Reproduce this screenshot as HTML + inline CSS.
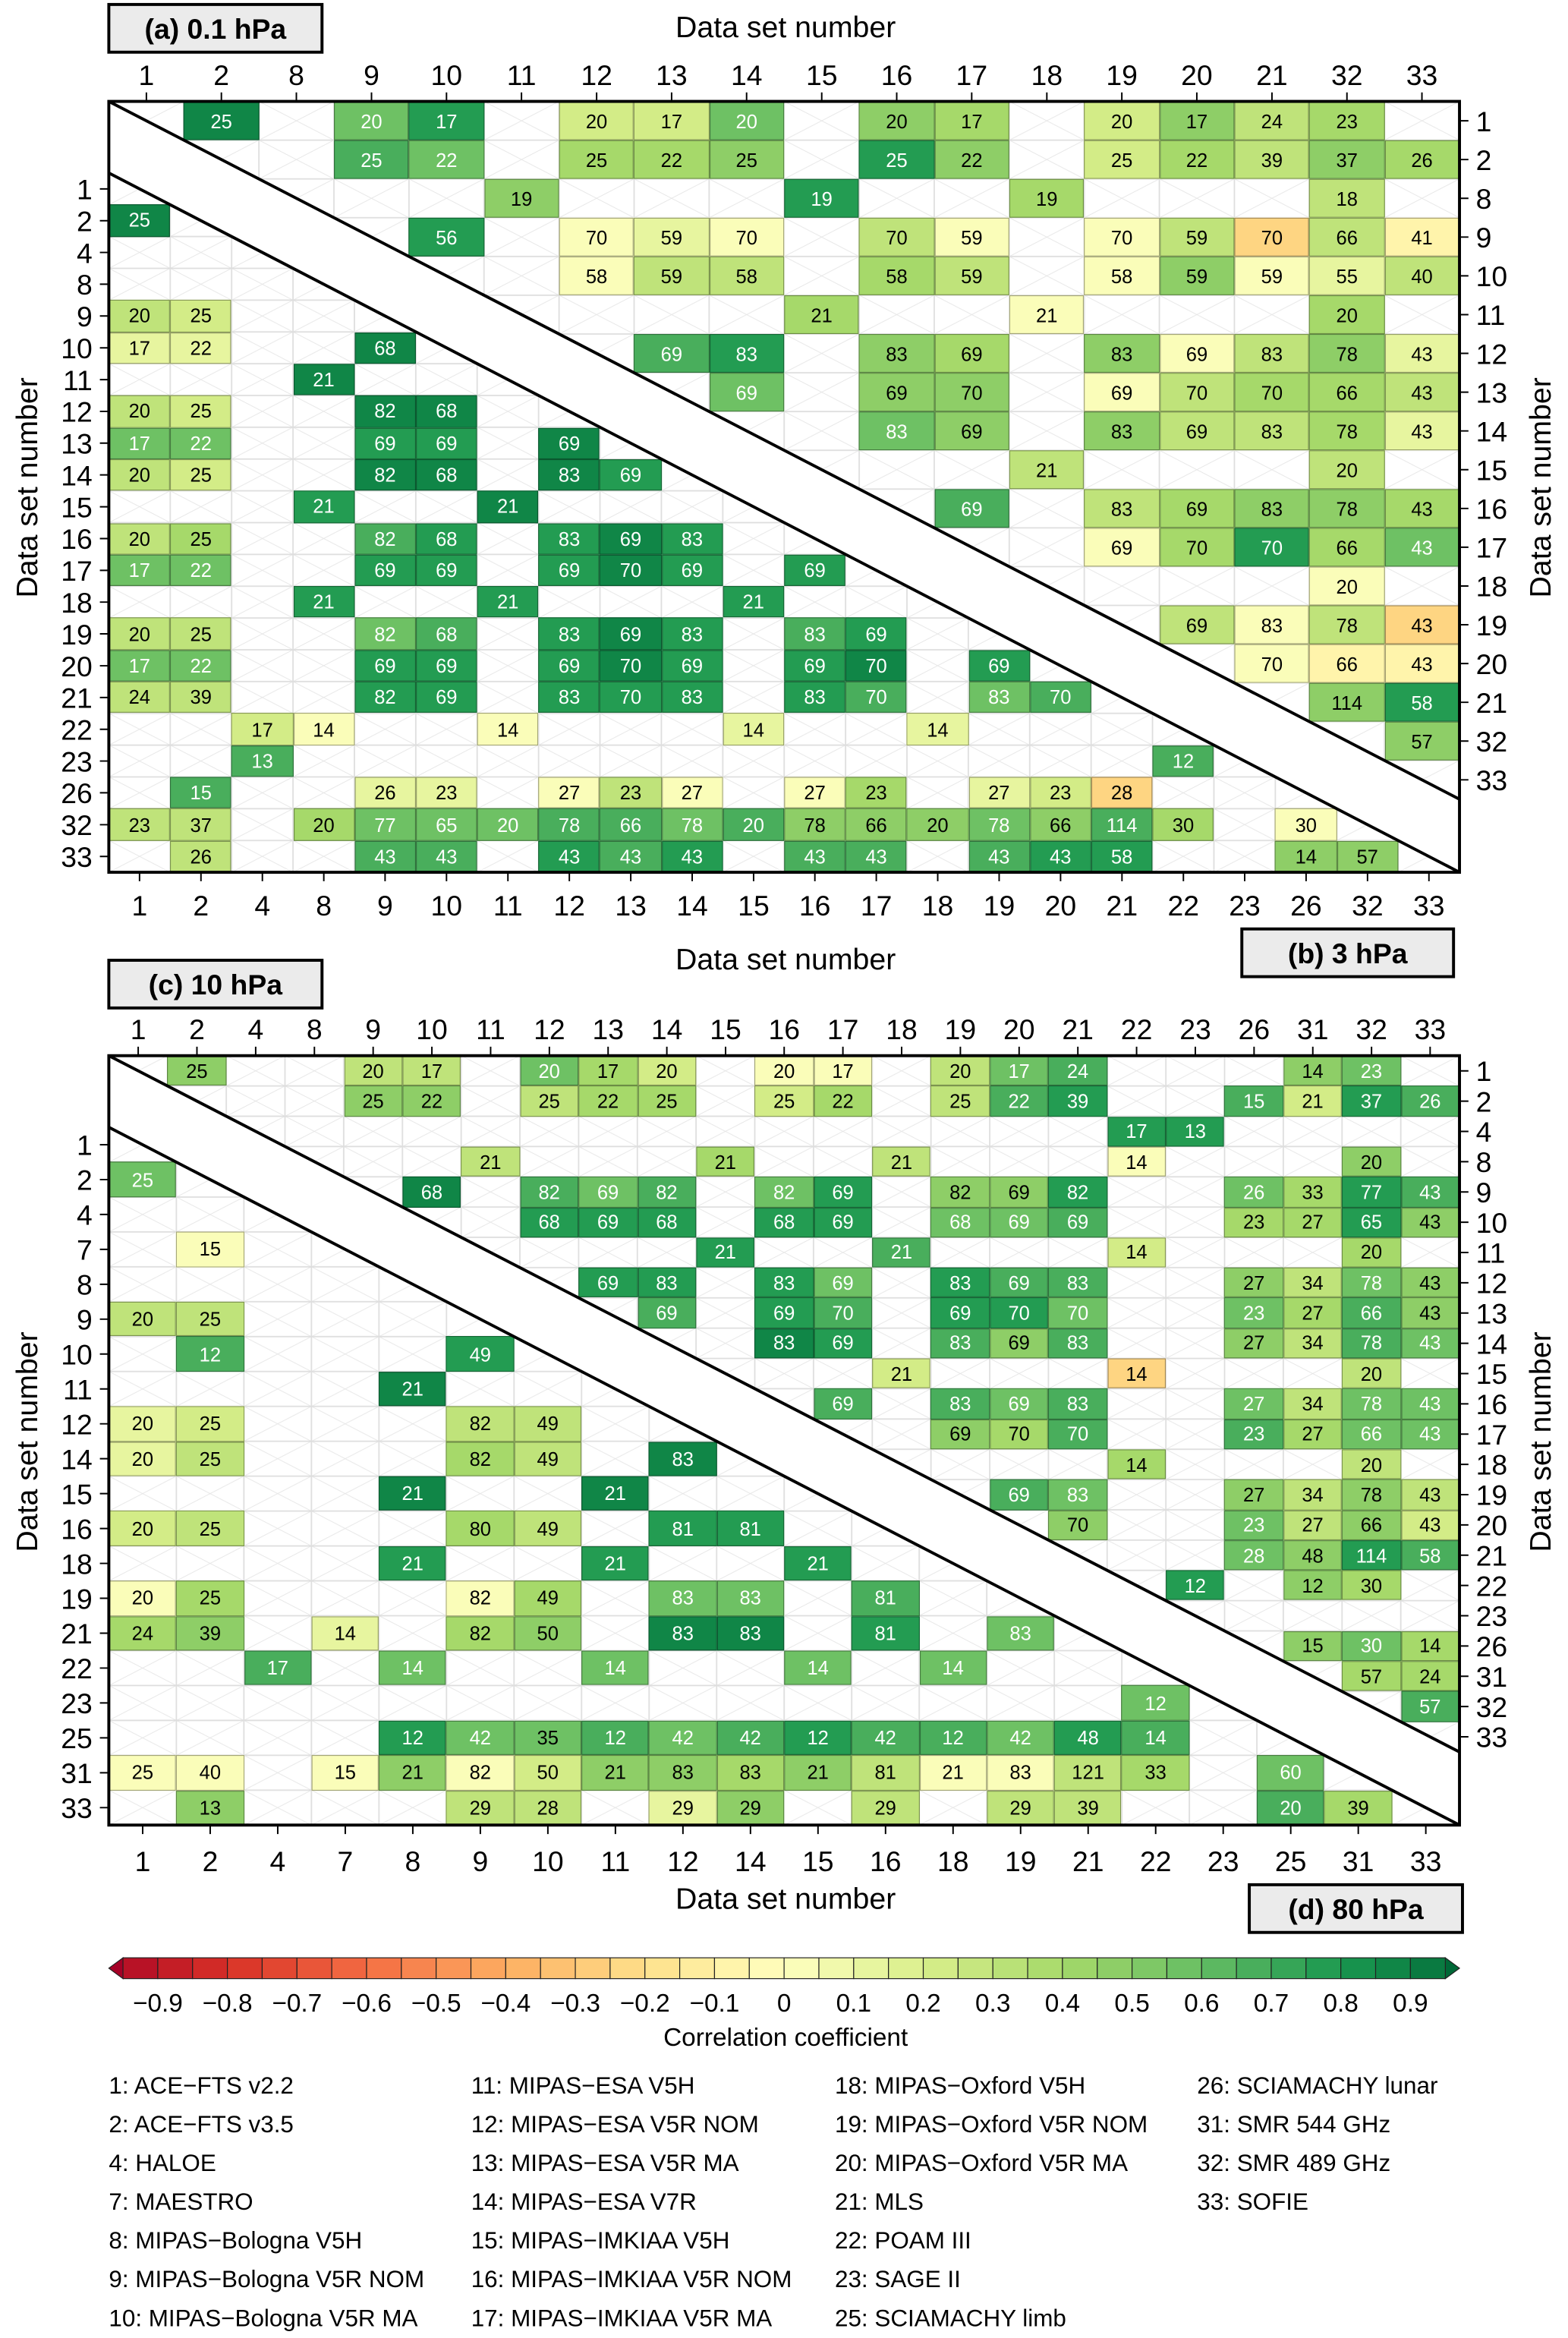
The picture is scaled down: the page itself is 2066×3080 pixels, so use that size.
<!DOCTYPE html>
<html><head><meta charset="utf-8">
<style>
html,body{margin:0;padding:0;background:#fff;width:2066px;height:3080px;overflow:hidden}
.wrap{position:absolute;left:0;top:0;width:1052px;height:1568px;transform-origin:0 0;transform:scale(1.96429,1.96429);font-family:"Liberation Sans",Arial,sans-serif}
.g{position:absolute;display:grid}
.g svg{position:absolute;left:0;top:0}
.g i{position:relative;font-style:normal;display:flex;align-items:center;justify-content:center;font-size:13px;color:#000;box-shadow:inset 0 0 0 0.6px rgba(0,0,0,.35)}
.up{clip-path:polygon(0 0,100% 0,100% 100%)}
.lo{clip-path:polygon(0 0,100% 100%,0 100%)}
.k0{background:#fafdb9}.k1{background:#e7f59f}.k2{background:#d3ec87}.k3{background:#bfe37a}.k4{background:#a6d96a}
.k5{background:#8ece67}.k6{background:#6ec164}.k7{background:#49ae5c}.k8{background:#239c52}.k9{background:#108647}
.n1{background:#fff4ab}.n2{background:#fed582}
.g i.w{color:#fff}
.ov{position:absolute;left:0;top:0}
</style></head><body><div class="wrap">

<div class="g up" style="left:73px;top:68px;width:906px;height:468px;grid-template-columns:repeat(18,1fr);grid-template-rows:repeat(18,1fr)">
<svg width="906" height="468"><defs><pattern id="pa" width="50.333" height="26" patternUnits="userSpaceOnUse"><path d="M0 0L50.333 26M50.333 0L0 26" stroke="#e6e6e6" stroke-width="0.5" fill="none"/><rect x="0" y="0" width="50.333" height="26" fill="none" stroke="#dedede" stroke-width="0.9"/></pattern></defs><rect width="906" height="468" fill="url(#pa)"/></svg>
<i class="k9 w" style="grid-area:1/2">25</i><i class="k6 w" style="grid-area:1/4">20</i><i class="k8 w" style="grid-area:1/5">17</i><i class="k2" style="grid-area:1/7">20</i><i class="k2" style="grid-area:1/8">17</i><i class="k6 w" style="grid-area:1/9">20</i><i class="k5" style="grid-area:1/11">20</i><i class="k4" style="grid-area:1/12">17</i><i class="k2" style="grid-area:1/14">20</i><i class="k5" style="grid-area:1/15">17</i><i class="k3" style="grid-area:1/16">24</i><i class="k4" style="grid-area:1/17">23</i>
<i class="k7 w" style="grid-area:2/4">25</i><i class="k6 w" style="grid-area:2/5">22</i><i class="k4" style="grid-area:2/7">25</i><i class="k4" style="grid-area:2/8">22</i><i class="k5" style="grid-area:2/9">25</i><i class="k8 w" style="grid-area:2/11">25</i><i class="k5" style="grid-area:2/12">22</i><i class="k2" style="grid-area:2/14">25</i><i class="k4" style="grid-area:2/15">22</i><i class="k3" style="grid-area:2/16">39</i><i class="k5" style="grid-area:2/17">37</i><i class="k4" style="grid-area:2/18">26</i>
<i class="k5" style="grid-area:3/6">19</i><i class="k8 w" style="grid-area:3/10">19</i><i class="k4" style="grid-area:3/13">19</i><i class="k3" style="grid-area:3/17">18</i>
<i class="k8 w" style="grid-area:4/5">56</i><i class="k0" style="grid-area:4/7">70</i><i class="k1" style="grid-area:4/8">59</i><i class="k0" style="grid-area:4/9">70</i><i class="k3" style="grid-area:4/11">70</i><i class="k0" style="grid-area:4/12">59</i><i class="k0" style="grid-area:4/14">70</i><i class="k3" style="grid-area:4/15">59</i><i class="n2" style="grid-area:4/16">70</i><i class="k3" style="grid-area:4/17">66</i><i class="n1" style="grid-area:4/18">41</i>
<i class="k0" style="grid-area:5/7">58</i><i class="k3" style="grid-area:5/8">59</i><i class="k3" style="grid-area:5/9">58</i><i class="k4" style="grid-area:5/11">58</i><i class="k3" style="grid-area:5/12">59</i><i class="k0" style="grid-area:5/14">58</i><i class="k5" style="grid-area:5/15">59</i><i class="k0" style="grid-area:5/16">59</i><i class="k1" style="grid-area:5/17">55</i><i class="k3" style="grid-area:5/18">40</i>
<i class="k4" style="grid-area:6/10">21</i><i class="k0" style="grid-area:6/13">21</i><i class="k4" style="grid-area:6/17">20</i>
<i class="k7 w" style="grid-area:7/8">69</i><i class="k8 w" style="grid-area:7/9">83</i><i class="k5" style="grid-area:7/11">83</i><i class="k4" style="grid-area:7/12">69</i><i class="k5" style="grid-area:7/14">83</i><i class="k0" style="grid-area:7/15">69</i><i class="k3" style="grid-area:7/16">83</i><i class="k5" style="grid-area:7/17">78</i><i class="k1" style="grid-area:7/18">43</i>
<i class="k6 w" style="grid-area:8/9">69</i><i class="k5" style="grid-area:8/11">69</i><i class="k5" style="grid-area:8/12">70</i><i class="k0" style="grid-area:8/14">69</i><i class="k3" style="grid-area:8/15">70</i><i class="k4" style="grid-area:8/16">70</i><i class="k4" style="grid-area:8/17">66</i><i class="k3" style="grid-area:8/18">43</i>
<i class="k6 w" style="grid-area:9/11">83</i><i class="k5" style="grid-area:9/12">69</i><i class="k5" style="grid-area:9/14">83</i><i class="k3" style="grid-area:9/15">69</i><i class="k3" style="grid-area:9/16">83</i><i class="k4" style="grid-area:9/17">78</i><i class="k1" style="grid-area:9/18">43</i>
<i class="k3" style="grid-area:10/13">21</i><i class="k3" style="grid-area:10/17">20</i>
<i class="k7 w" style="grid-area:11/12">69</i><i class="k3" style="grid-area:11/14">83</i><i class="k4" style="grid-area:11/15">69</i><i class="k5" style="grid-area:11/16">83</i><i class="k5" style="grid-area:11/17">78</i><i class="k4" style="grid-area:11/18">43</i>
<i class="k0" style="grid-area:12/14">69</i><i class="k4" style="grid-area:12/15">70</i><i class="k8 w" style="grid-area:12/16">70</i><i class="k4" style="grid-area:12/17">66</i><i class="k6 w" style="grid-area:12/18">43</i>
<i class="k0" style="grid-area:13/17">20</i>
<i class="k3" style="grid-area:14/15">69</i><i class="k0" style="grid-area:14/16">83</i><i class="k3" style="grid-area:14/17">78</i><i class="n2" style="grid-area:14/18">43</i>
<i class="k0" style="grid-area:15/16">70</i><i class="n1" style="grid-area:15/17">66</i><i class="n1" style="grid-area:15/18">43</i>
<i class="k5" style="grid-area:16/17">114</i><i class="k8 w" style="grid-area:16/18">58</i>
<i class="k5" style="grid-area:17/18">57</i>
</div>

<div class="g lo" style="left:73px;top:116px;width:906px;height:469px;grid-template-columns:repeat(22,1fr);grid-template-rows:repeat(22,1fr)">
<svg width="906" height="469"><defs><pattern id="pb" width="41.1818" height="21.318" patternUnits="userSpaceOnUse"><path d="M0 0L41.1818 21.318M41.1818 0L0 21.318" stroke="#e6e6e6" stroke-width="0.5" fill="none"/><rect x="0" y="0" width="41.1818" height="21.318" fill="none" stroke="#dedede" stroke-width="0.9"/></pattern></defs><rect width="906" height="469" fill="url(#pb)"/></svg>
<i class="k9 w" style="grid-area:2/1">25</i>
<i class="k3" style="grid-area:5/1">20</i><i class="k2" style="grid-area:5/2">25</i>
<i class="k1" style="grid-area:6/1">17</i><i class="k1" style="grid-area:6/2">22</i><i class="k9 w" style="grid-area:6/5">68</i>
<i class="k9 w" style="grid-area:7/4">21</i>
<i class="k3" style="grid-area:8/1">20</i><i class="k2" style="grid-area:8/2">25</i><i class="k9 w" style="grid-area:8/5">82</i><i class="k9 w" style="grid-area:8/6">68</i>
<i class="k6 w" style="grid-area:9/1">17</i><i class="k6 w" style="grid-area:9/2">22</i><i class="k8 w" style="grid-area:9/5">69</i><i class="k8 w" style="grid-area:9/6">69</i><i class="k9 w" style="grid-area:9/8">69</i>
<i class="k3" style="grid-area:10/1">20</i><i class="k2" style="grid-area:10/2">25</i><i class="k9 w" style="grid-area:10/5">82</i><i class="k9 w" style="grid-area:10/6">68</i><i class="k9 w" style="grid-area:10/8">83</i><i class="k8 w" style="grid-area:10/9">69</i>
<i class="k8 w" style="grid-area:11/4">21</i><i class="k9 w" style="grid-area:11/7">21</i>
<i class="k3" style="grid-area:12/1">20</i><i class="k4" style="grid-area:12/2">25</i><i class="k7 w" style="grid-area:12/5">82</i><i class="k8 w" style="grid-area:12/6">68</i><i class="k8 w" style="grid-area:12/8">83</i><i class="k9 w" style="grid-area:12/9">69</i><i class="k8 w" style="grid-area:12/10">83</i>
<i class="k6 w" style="grid-area:13/1">17</i><i class="k6 w" style="grid-area:13/2">22</i><i class="k8 w" style="grid-area:13/5">69</i><i class="k8 w" style="grid-area:13/6">69</i><i class="k8 w" style="grid-area:13/8">69</i><i class="k9 w" style="grid-area:13/9">70</i><i class="k8 w" style="grid-area:13/10">69</i><i class="k8 w" style="grid-area:13/12">69</i>
<i class="k8 w" style="grid-area:14/4">21</i><i class="k8 w" style="grid-area:14/7">21</i><i class="k8 w" style="grid-area:14/11">21</i>
<i class="k3" style="grid-area:15/1">20</i><i class="k3" style="grid-area:15/2">25</i><i class="k6 w" style="grid-area:15/5">82</i><i class="k7 w" style="grid-area:15/6">68</i><i class="k8 w" style="grid-area:15/8">83</i><i class="k9 w" style="grid-area:15/9">69</i><i class="k8 w" style="grid-area:15/10">83</i><i class="k7 w" style="grid-area:15/12">83</i><i class="k8 w" style="grid-area:15/13">69</i>
<i class="k6 w" style="grid-area:16/1">17</i><i class="k6 w" style="grid-area:16/2">22</i><i class="k8 w" style="grid-area:16/5">69</i><i class="k8 w" style="grid-area:16/6">69</i><i class="k8 w" style="grid-area:16/8">69</i><i class="k9 w" style="grid-area:16/9">70</i><i class="k8 w" style="grid-area:16/10">69</i><i class="k8 w" style="grid-area:16/12">69</i><i class="k9 w" style="grid-area:16/13">70</i><i class="k8 w" style="grid-area:16/15">69</i>
<i class="k3" style="grid-area:17/1">24</i><i class="k3" style="grid-area:17/2">39</i><i class="k8 w" style="grid-area:17/5">82</i><i class="k8 w" style="grid-area:17/6">69</i><i class="k8 w" style="grid-area:17/8">83</i><i class="k8 w" style="grid-area:17/9">70</i><i class="k8 w" style="grid-area:17/10">83</i><i class="k8 w" style="grid-area:17/12">83</i><i class="k7 w" style="grid-area:17/13">70</i><i class="k6 w" style="grid-area:17/15">83</i><i class="k7 w" style="grid-area:17/16">70</i>
<i class="k2" style="grid-area:18/3">17</i><i class="k0" style="grid-area:18/4">14</i><i class="k0" style="grid-area:18/7">14</i><i class="k1" style="grid-area:18/11">14</i><i class="k1" style="grid-area:18/14">14</i>
<i class="k7 w" style="grid-area:19/3">13</i><i class="k7 w" style="grid-area:19/18">12</i>
<i class="k7 w" style="grid-area:20/2">15</i><i class="k1" style="grid-area:20/5">26</i><i class="k1" style="grid-area:20/6">23</i><i class="k0" style="grid-area:20/8">27</i><i class="k3" style="grid-area:20/9">23</i><i class="k0" style="grid-area:20/10">27</i><i class="k0" style="grid-area:20/12">27</i><i class="k4" style="grid-area:20/13">23</i><i class="k1" style="grid-area:20/15">27</i><i class="k2" style="grid-area:20/16">23</i><i class="n2" style="grid-area:20/17">28</i>
<i class="k3" style="grid-area:21/1">23</i><i class="k3" style="grid-area:21/2">37</i><i class="k4" style="grid-area:21/4">20</i><i class="k6 w" style="grid-area:21/5">77</i><i class="k6 w" style="grid-area:21/6">65</i><i class="k6 w" style="grid-area:21/7">20</i><i class="k7 w" style="grid-area:21/8">78</i><i class="k7 w" style="grid-area:21/9">66</i><i class="k6 w" style="grid-area:21/10">78</i><i class="k7 w" style="grid-area:21/11">20</i><i class="k5" style="grid-area:21/12">78</i><i class="k5" style="grid-area:21/13">66</i><i class="k5" style="grid-area:21/14">20</i><i class="k6 w" style="grid-area:21/15">78</i><i class="k5" style="grid-area:21/16">66</i><i class="k7 w" style="grid-area:21/17">114</i><i class="k4" style="grid-area:21/18">30</i><i class="k0" style="grid-area:21/20">30</i>
<i class="k3" style="grid-area:22/2">26</i><i class="k7 w" style="grid-area:22/5">43</i><i class="k7 w" style="grid-area:22/6">43</i><i class="k8 w" style="grid-area:22/8">43</i><i class="k7 w" style="grid-area:22/9">43</i><i class="k8 w" style="grid-area:22/10">43</i><i class="k7 w" style="grid-area:22/12">43</i><i class="k7 w" style="grid-area:22/13">43</i><i class="k7 w" style="grid-area:22/15">43</i><i class="k8 w" style="grid-area:22/16">43</i><i class="k8 w" style="grid-area:22/17">58</i><i class="k5" style="grid-area:22/20">14</i><i class="k5" style="grid-area:22/21">57</i>
</div>

<div class="g up" style="left:73px;top:708px;width:906px;height:467px;grid-template-columns:repeat(23,1fr);grid-template-rows:repeat(23,1fr)">
<svg width="906" height="467"><defs><pattern id="pc" width="39.3913" height="20.3043" patternUnits="userSpaceOnUse"><path d="M0 0L39.3913 20.3043M39.3913 0L0 20.3043" stroke="#e6e6e6" stroke-width="0.5" fill="none"/><rect x="0" y="0" width="39.3913" height="20.3043" fill="none" stroke="#dedede" stroke-width="0.9"/></pattern></defs><rect width="906" height="467" fill="url(#pc)"/></svg>
<i class="k5" style="grid-area:1/2">25</i><i class="k3" style="grid-area:1/5">20</i><i class="k3" style="grid-area:1/6">17</i><i class="k6 w" style="grid-area:1/8">20</i><i class="k4" style="grid-area:1/9">17</i><i class="k2" style="grid-area:1/10">20</i><i class="k0" style="grid-area:1/12">20</i><i class="k0" style="grid-area:1/13">17</i><i class="k3" style="grid-area:1/15">20</i><i class="k6 w" style="grid-area:1/16">17</i><i class="k7 w" style="grid-area:1/17">24</i><i class="k5" style="grid-area:1/21">14</i><i class="k6 w" style="grid-area:1/22">23</i>
<i class="k5" style="grid-area:2/5">25</i><i class="k5" style="grid-area:2/6">22</i><i class="k3" style="grid-area:2/8">25</i><i class="k4" style="grid-area:2/9">22</i><i class="k4" style="grid-area:2/10">25</i><i class="k2" style="grid-area:2/12">25</i><i class="k4" style="grid-area:2/13">22</i><i class="k3" style="grid-area:2/15">25</i><i class="k7 w" style="grid-area:2/16">22</i><i class="k8 w" style="grid-area:2/17">39</i><i class="k7 w" style="grid-area:2/20">15</i><i class="k2" style="grid-area:2/21">21</i><i class="k8 w" style="grid-area:2/22">37</i><i class="k7 w" style="grid-area:2/23">26</i>
<i class="k8 w" style="grid-area:3/18">17</i><i class="k8 w" style="grid-area:3/19">13</i>
<i class="k3" style="grid-area:4/7">21</i><i class="k4" style="grid-area:4/11">21</i><i class="k3" style="grid-area:4/14">21</i><i class="k0" style="grid-area:4/18">14</i><i class="k5" style="grid-area:4/22">20</i>
<i class="k9 w" style="grid-area:5/6">68</i><i class="k7 w" style="grid-area:5/8">82</i><i class="k6 w" style="grid-area:5/9">69</i><i class="k7 w" style="grid-area:5/10">82</i><i class="k6 w" style="grid-area:5/12">82</i><i class="k8 w" style="grid-area:5/13">69</i><i class="k5" style="grid-area:5/15">82</i><i class="k5" style="grid-area:5/16">69</i><i class="k8 w" style="grid-area:5/17">82</i><i class="k6 w" style="grid-area:5/20">26</i><i class="k4" style="grid-area:5/21">33</i><i class="k8 w" style="grid-area:5/22">77</i><i class="k7 w" style="grid-area:5/23">43</i>
<i class="k8 w" style="grid-area:6/8">68</i><i class="k8 w" style="grid-area:6/9">69</i><i class="k8 w" style="grid-area:6/10">68</i><i class="k8 w" style="grid-area:6/12">68</i><i class="k8 w" style="grid-area:6/13">69</i><i class="k6 w" style="grid-area:6/15">68</i><i class="k6 w" style="grid-area:6/16">69</i><i class="k7 w" style="grid-area:6/17">69</i><i class="k4" style="grid-area:6/20">23</i><i class="k4" style="grid-area:6/21">27</i><i class="k8 w" style="grid-area:6/22">65</i><i class="k5" style="grid-area:6/23">43</i>
<i class="k8 w" style="grid-area:7/11">21</i><i class="k7 w" style="grid-area:7/14">21</i><i class="k2" style="grid-area:7/18">14</i><i class="k4" style="grid-area:7/22">20</i>
<i class="k8 w" style="grid-area:8/9">69</i><i class="k8 w" style="grid-area:8/10">83</i><i class="k8 w" style="grid-area:8/12">83</i><i class="k6 w" style="grid-area:8/13">69</i><i class="k8 w" style="grid-area:8/15">83</i><i class="k7 w" style="grid-area:8/16">69</i><i class="k7 w" style="grid-area:8/17">83</i><i class="k5" style="grid-area:8/20">27</i><i class="k3" style="grid-area:8/21">34</i><i class="k6 w" style="grid-area:8/22">78</i><i class="k5" style="grid-area:8/23">43</i>
<i class="k7 w" style="grid-area:9/10">69</i><i class="k8 w" style="grid-area:9/12">69</i><i class="k7 w" style="grid-area:9/13">70</i><i class="k8 w" style="grid-area:9/15">69</i><i class="k8 w" style="grid-area:9/16">70</i><i class="k6 w" style="grid-area:9/17">70</i><i class="k6 w" style="grid-area:9/20">23</i><i class="k4" style="grid-area:9/21">27</i><i class="k7 w" style="grid-area:9/22">66</i><i class="k5" style="grid-area:9/23">43</i>
<i class="k9 w" style="grid-area:10/12">83</i><i class="k8 w" style="grid-area:10/13">69</i><i class="k7 w" style="grid-area:10/15">83</i><i class="k5" style="grid-area:10/16">69</i><i class="k7 w" style="grid-area:10/17">83</i><i class="k5" style="grid-area:10/20">27</i><i class="k3" style="grid-area:10/21">34</i><i class="k7 w" style="grid-area:10/22">78</i><i class="k6 w" style="grid-area:10/23">43</i>
<i class="k2" style="grid-area:11/14">21</i><i class="n2" style="grid-area:11/18">14</i><i class="k3" style="grid-area:11/22">20</i>
<i class="k7 w" style="grid-area:12/13">69</i><i class="k7 w" style="grid-area:12/15">83</i><i class="k6 w" style="grid-area:12/16">69</i><i class="k7 w" style="grid-area:12/17">83</i><i class="k6 w" style="grid-area:12/20">27</i><i class="k3" style="grid-area:12/21">34</i><i class="k6 w" style="grid-area:12/22">78</i><i class="k6 w" style="grid-area:12/23">43</i>
<i class="k5" style="grid-area:13/15">69</i><i class="k4" style="grid-area:13/16">70</i><i class="k7 w" style="grid-area:13/17">70</i><i class="k7 w" style="grid-area:13/20">23</i><i class="k4" style="grid-area:13/21">27</i><i class="k6 w" style="grid-area:13/22">66</i><i class="k6 w" style="grid-area:13/23">43</i>
<i class="k4" style="grid-area:14/18">14</i><i class="k3" style="grid-area:14/22">20</i>
<i class="k7 w" style="grid-area:15/16">69</i><i class="k6 w" style="grid-area:15/17">83</i><i class="k5" style="grid-area:15/20">27</i><i class="k3" style="grid-area:15/21">34</i><i class="k5" style="grid-area:15/22">78</i><i class="k3" style="grid-area:15/23">43</i>
<i class="k5" style="grid-area:16/17">70</i><i class="k6 w" style="grid-area:16/20">23</i><i class="k3" style="grid-area:16/21">27</i><i class="k5" style="grid-area:16/22">66</i><i class="k2" style="grid-area:16/23">43</i>
<i class="k6 w" style="grid-area:17/20">28</i><i class="k5" style="grid-area:17/21">48</i><i class="k8 w" style="grid-area:17/22">114</i><i class="k7 w" style="grid-area:17/23">58</i>
<i class="k8 w" style="grid-area:18/19">12</i><i class="k5" style="grid-area:18/21">12</i><i class="k4" style="grid-area:18/22">30</i>
<i class="k5" style="grid-area:20/21">15</i><i class="k6 w" style="grid-area:20/22">30</i><i class="k4" style="grid-area:20/23">14</i>
<i class="k4" style="grid-area:21/22">57</i><i class="k4" style="grid-area:21/23">24</i>
<i class="k7 w" style="grid-area:22/23">57</i>
</div>

<div class="g lo" style="left:73px;top:756px;width:906px;height:468px;grid-template-columns:repeat(20,1fr);grid-template-rows:repeat(20,1fr)">
<svg width="906" height="468"><defs><pattern id="pd" width="45.3" height="23.4" patternUnits="userSpaceOnUse"><path d="M0 0L45.3 23.4M45.3 0L0 23.4" stroke="#e6e6e6" stroke-width="0.5" fill="none"/><rect x="0" y="0" width="45.3" height="23.4" fill="none" stroke="#dedede" stroke-width="0.9"/></pattern></defs><rect width="906" height="468" fill="url(#pd)"/></svg>
<i class="k6 w" style="grid-area:2/1">25</i>
<i class="k0" style="grid-area:4/2">15</i>
<i class="k3" style="grid-area:6/1">20</i><i class="k3" style="grid-area:6/2">25</i>
<i class="k7 w" style="grid-area:7/2">12</i><i class="k8 w" style="grid-area:7/6">49</i>
<i class="k9 w" style="grid-area:8/5">21</i>
<i class="k1" style="grid-area:9/1">20</i><i class="k2" style="grid-area:9/2">25</i><i class="k3" style="grid-area:9/6">82</i><i class="k3" style="grid-area:9/7">49</i>
<i class="k1" style="grid-area:10/1">20</i><i class="k3" style="grid-area:10/2">25</i><i class="k4" style="grid-area:10/6">82</i><i class="k3" style="grid-area:10/7">49</i><i class="k9 w" style="grid-area:10/9">83</i>
<i class="k9 w" style="grid-area:11/5">21</i><i class="k9 w" style="grid-area:11/8">21</i>
<i class="k2" style="grid-area:12/1">20</i><i class="k3" style="grid-area:12/2">25</i><i class="k4" style="grid-area:12/6">80</i><i class="k3" style="grid-area:12/7">49</i><i class="k8 w" style="grid-area:12/9">81</i><i class="k8 w" style="grid-area:12/10">81</i>
<i class="k8 w" style="grid-area:13/5">21</i><i class="k8 w" style="grid-area:13/8">21</i><i class="k8 w" style="grid-area:13/11">21</i>
<i class="k0" style="grid-area:14/1">20</i><i class="k4" style="grid-area:14/2">25</i><i class="k0" style="grid-area:14/6">82</i><i class="k4" style="grid-area:14/7">49</i><i class="k6 w" style="grid-area:14/9">83</i><i class="k6 w" style="grid-area:14/10">83</i><i class="k7 w" style="grid-area:14/12">81</i>
<i class="k4" style="grid-area:15/1">24</i><i class="k5" style="grid-area:15/2">39</i><i class="k1" style="grid-area:15/4">14</i><i class="k4" style="grid-area:15/6">82</i><i class="k5" style="grid-area:15/7">50</i><i class="k9 w" style="grid-area:15/9">83</i><i class="k9 w" style="grid-area:15/10">83</i><i class="k8 w" style="grid-area:15/12">81</i><i class="k6 w" style="grid-area:15/14">83</i>
<i class="k7 w" style="grid-area:16/3">17</i><i class="k6 w" style="grid-area:16/5">14</i><i class="k6 w" style="grid-area:16/8">14</i><i class="k6 w" style="grid-area:16/11">14</i><i class="k6 w" style="grid-area:16/13">14</i>
<i class="k6 w" style="grid-area:17/16">12</i>
<i class="k8 w" style="grid-area:18/5">12</i><i class="k6 w" style="grid-area:18/6">42</i><i class="k6" style="grid-area:18/7">35</i><i class="k7 w" style="grid-area:18/8">12</i><i class="k6 w" style="grid-area:18/9">42</i><i class="k7 w" style="grid-area:18/10">42</i><i class="k8 w" style="grid-area:18/11">12</i><i class="k7 w" style="grid-area:18/12">42</i><i class="k7 w" style="grid-area:18/13">12</i><i class="k6 w" style="grid-area:18/14">42</i><i class="k8 w" style="grid-area:18/15">48</i><i class="k7 w" style="grid-area:18/16">14</i>
<i class="k0" style="grid-area:19/1">25</i><i class="k0" style="grid-area:19/2">40</i><i class="k0" style="grid-area:19/4">15</i><i class="k5" style="grid-area:19/5">21</i><i class="k0" style="grid-area:19/6">82</i><i class="k2" style="grid-area:19/7">50</i><i class="k5" style="grid-area:19/8">21</i><i class="k5" style="grid-area:19/9">83</i><i class="k4" style="grid-area:19/10">83</i><i class="k5" style="grid-area:19/11">21</i><i class="k3" style="grid-area:19/12">81</i><i class="k0" style="grid-area:19/13">21</i><i class="k0" style="grid-area:19/14">83</i><i class="k3" style="grid-area:19/15">121</i><i class="k4" style="grid-area:19/16">33</i><i class="k6 w" style="grid-area:19/18">60</i>
<i class="k5" style="grid-area:20/2">13</i><i class="k3" style="grid-area:20/6">29</i><i class="k3" style="grid-area:20/7">28</i><i class="k1" style="grid-area:20/9">29</i><i class="k5" style="grid-area:20/10">29</i><i class="k3" style="grid-area:20/12">29</i><i class="k3" style="grid-area:20/14">29</i><i class="k3" style="grid-area:20/15">39</i><i class="k7 w" style="grid-area:20/18">20</i><i class="k4" style="grid-area:20/19">39</i>
</div>

<svg class="ov" width="1052" height="1568" viewBox="0 0 1052 1568" font-family="Liberation Sans, Arial, sans-serif">
<g stroke="#000" fill="none">
<line x1="73" y1="68" x2="979" y2="536" stroke-width="2"/>
<line x1="73" y1="116" x2="979" y2="585" stroke-width="2"/>
<rect x="73" y="68" width="906" height="517" stroke-width="2"/>
<line x1="73" y1="708" x2="979" y2="1175" stroke-width="2"/>
<line x1="73" y1="756" x2="979" y2="1224" stroke-width="2"/>
<rect x="73" y="708" width="906" height="516" stroke-width="2"/>
</g>
<g stroke="#000" stroke-width="1">
<path d="M98.2 68v-6M148.5 68v-6M198.8 68v-6M249.2 68v-6M299.5 68v-6M349.8 68v-6M400.2 68v-6M450.5 68v-6M500.8 68v-6M551.2 68v-6M601.5 68v-6M651.8 68v-6M702.2 68v-6M752.5 68v-6M802.8 68v-6M853.2 68v-6M903.5 68v-6M953.8 68v-6"/>
<path d="M979 81h6M979 107h6M979 133h6M979 159h6M979 185h6M979 211h6M979 237h6M979 263h6M979 289h6M979 315h6M979 341h6M979 367h6M979 393h6M979 419h6M979 445h6M979 471h6M979 497h6M979 523h6"/>
<path d="M93.6 585v6M134.8 585v6M176 585v6M217.2 585v6M258.3 585v6M299.5 585v6M340.7 585v6M381.9 585v6M423.1 585v6M464.3 585v6M505.5 585v6M546.6 585v6M587.8 585v6M629 585v6M670.2 585v6M711.4 585v6M752.6 585v6M793.8 585v6M834.9 585v6M876.1 585v6M917.3 585v6M958.5 585v6"/>
<path d="M73 126.7h-6M73 148h-6M73 169.3h-6M73 190.6h-6M73 211.9h-6M73 233.3h-6M73 254.6h-6M73 275.9h-6M73 297.2h-6M73 318.5h-6M73 339.9h-6M73 361.2h-6M73 382.5h-6M73 403.8h-6M73 425.1h-6M73 446.5h-6M73 467.8h-6M73 489.1h-6M73 510.4h-6M73 531.7h-6M73 553.1h-6M73 574.4h-6"/>
<path d="M92.7 708v-6M132.1 708v-6M171.5 708v-6M210.9 708v-6M250.3 708v-6M289.7 708v-6M329.1 708v-6M368.5 708v-6M407.9 708v-6M447.3 708v-6M486.7 708v-6M526 708v-6M565.4 708v-6M604.8 708v-6M644.2 708v-6M683.6 708v-6M723 708v-6M762.4 708v-6M801.8 708v-6M841.2 708v-6M880.6 708v-6M920 708v-6M959.3 708v-6"/>
<path d="M979 718.2h6M979 738.5h6M979 758.8h6M979 779.1h6M979 799.4h6M979 819.7h6M979 840h6M979 860.3h6M979 880.6h6M979 900.9h6M979 921.2h6M979 941.5h6M979 961.8h6M979 982.1h6M979 1002.4h6M979 1022.7h6M979 1043h6M979 1063.3h6M979 1083.6h6M979 1103.9h6M979 1124.2h6M979 1144.5h6M979 1164.8h6"/>
<path d="M95.7 1224v6M141 1224v6M186.3 1224v6M231.6 1224v6M276.9 1224v6M322.2 1224v6M367.5 1224v6M412.8 1224v6M458.1 1224v6M503.4 1224v6M548.7 1224v6M594 1224v6M639.3 1224v6M684.6 1224v6M729.9 1224v6M775.2 1224v6M820.5 1224v6M865.8 1224v6M911.1 1224v6M956.4 1224v6"/>
<path d="M73 767.7h-6M73 791.1h-6M73 814.5h-6M73 837.9h-6M73 861.3h-6M73 884.7h-6M73 908.1h-6M73 931.5h-6M73 954.9h-6M73 978.3h-6M73 1001.7h-6M73 1025.1h-6M73 1048.5h-6M73 1071.9h-6M73 1095.3h-6M73 1118.7h-6M73 1142.1h-6M73 1165.5h-6M73 1188.9h-6M73 1212.3h-6"/>
</g>
<g font-size="19" fill="#000">
<g text-anchor="middle">
<text x="98.2" y="57">1</text><text x="148.5" y="57">2</text><text x="198.8" y="57">8</text><text x="249.2" y="57">9</text><text x="299.5" y="57">10</text><text x="349.8" y="57">11</text><text x="400.2" y="57">12</text><text x="450.5" y="57">13</text><text x="500.8" y="57">14</text><text x="551.2" y="57">15</text><text x="601.5" y="57">16</text><text x="651.8" y="57">17</text><text x="702.2" y="57">18</text><text x="752.5" y="57">19</text><text x="802.8" y="57">20</text><text x="853.2" y="57">21</text><text x="903.5" y="57">32</text><text x="953.8" y="57">33</text>
<text x="93.6" y="614">1</text><text x="134.8" y="614">2</text><text x="176" y="614">4</text><text x="217.2" y="614">8</text><text x="258.3" y="614">9</text><text x="299.5" y="614">10</text><text x="340.7" y="614">11</text><text x="381.9" y="614">12</text><text x="423.1" y="614">13</text><text x="464.3" y="614">14</text><text x="505.5" y="614">15</text><text x="546.6" y="614">16</text><text x="587.8" y="614">17</text><text x="629" y="614">18</text><text x="670.2" y="614">19</text><text x="711.4" y="614">20</text><text x="752.6" y="614">21</text><text x="793.8" y="614">22</text><text x="834.9" y="614">23</text><text x="876.1" y="614">26</text><text x="917.3" y="614">32</text><text x="958.5" y="614">33</text>
<text x="92.7" y="697">1</text><text x="132.1" y="697">2</text><text x="171.5" y="697">4</text><text x="210.9" y="697">8</text><text x="250.3" y="697">9</text><text x="289.7" y="697">10</text><text x="329.1" y="697">11</text><text x="368.5" y="697">12</text><text x="407.9" y="697">13</text><text x="447.3" y="697">14</text><text x="486.7" y="697">15</text><text x="526" y="697">16</text><text x="565.4" y="697">17</text><text x="604.8" y="697">18</text><text x="644.2" y="697">19</text><text x="683.6" y="697">20</text><text x="723" y="697">21</text><text x="762.4" y="697">22</text><text x="801.8" y="697">23</text><text x="841.2" y="697">26</text><text x="880.6" y="697">31</text><text x="920" y="697">32</text><text x="959.3" y="697">33</text>
<text x="95.7" y="1255">1</text><text x="141" y="1255">2</text><text x="186.3" y="1255">4</text><text x="231.6" y="1255">7</text><text x="276.9" y="1255">8</text><text x="322.2" y="1255">9</text><text x="367.5" y="1255">10</text><text x="412.8" y="1255">11</text><text x="458.1" y="1255">12</text><text x="503.4" y="1255">14</text><text x="548.7" y="1255">15</text><text x="594" y="1255">16</text><text x="639.3" y="1255">18</text><text x="684.6" y="1255">19</text><text x="729.9" y="1255">21</text><text x="775.2" y="1255">22</text><text x="820.5" y="1255">23</text><text x="865.8" y="1255">25</text><text x="911.1" y="1255">31</text><text x="956.4" y="1255">33</text>
</g>
<g text-anchor="start">
<text x="990" y="88">1</text><text x="990" y="114">2</text><text x="990" y="140">8</text><text x="990" y="166">9</text><text x="990" y="192">10</text><text x="990" y="218">11</text><text x="990" y="244">12</text><text x="990" y="270">13</text><text x="990" y="296">14</text><text x="990" y="322">15</text><text x="990" y="348">16</text><text x="990" y="374">17</text><text x="990" y="400">18</text><text x="990" y="426">19</text><text x="990" y="452">20</text><text x="990" y="478">21</text><text x="990" y="504">32</text><text x="990" y="530">33</text>
<text x="990" y="725">1</text><text x="990" y="745.5">2</text><text x="990" y="765.8">4</text><text x="990" y="786">8</text><text x="990" y="806.4">9</text><text x="990" y="826.7">10</text><text x="990" y="847">11</text><text x="990" y="867.3">12</text><text x="990" y="887.6">13</text><text x="990" y="907.9">14</text><text x="990" y="928.2">15</text><text x="990" y="948.5">16</text><text x="990" y="968.8">17</text><text x="990" y="989">18</text><text x="990" y="1009.4">19</text><text x="990" y="1029.7">20</text><text x="990" y="1050">21</text><text x="990" y="1070.3">22</text><text x="990" y="1090.6">23</text><text x="990" y="1110.9">26</text><text x="990" y="1131.2">31</text><text x="990" y="1151.5">32</text><text x="990" y="1171.8">33</text>
</g>
<g text-anchor="end">
<text x="62" y="133.7">1</text><text x="62" y="155">2</text><text x="62" y="176.3">4</text><text x="62" y="197.6">8</text><text x="62" y="218.9">9</text><text x="62" y="240.3">10</text><text x="62" y="261.6">11</text><text x="62" y="282.9">12</text><text x="62" y="304.2">13</text><text x="62" y="325.5">14</text><text x="62" y="346.9">15</text><text x="62" y="368.2">16</text><text x="62" y="389.5">17</text><text x="62" y="410.8">18</text><text x="62" y="432.1">19</text><text x="62" y="453.5">20</text><text x="62" y="474.8">21</text><text x="62" y="496.1">22</text><text x="62" y="517.4">23</text><text x="62" y="538.7">26</text><text x="62" y="560.1">32</text><text x="62" y="581.4">33</text>
<text x="62" y="774.7">1</text><text x="62" y="798.1">2</text><text x="62" y="821.5">4</text><text x="62" y="844.9">7</text><text x="62" y="868.3">8</text><text x="62" y="891.7">9</text><text x="62" y="915.1">10</text><text x="62" y="938.5">11</text><text x="62" y="961.9">12</text><text x="62" y="985.3">14</text><text x="62" y="1008.7">15</text><text x="62" y="1032.1">16</text><text x="62" y="1055.5">18</text><text x="62" y="1078.9">19</text><text x="62" y="1102.3">21</text><text x="62" y="1125.7">22</text><text x="62" y="1149.1">23</text><text x="62" y="1172.5">25</text><text x="62" y="1195.9">31</text><text x="62" y="1219.3">33</text>
</g>
</g>
<g font-size="20" fill="#000" text-anchor="middle">
<text x="527" y="25">Data set number</text>
<text x="527" y="650">Data set number</text>
<text x="527" y="1280">Data set number</text>
<text transform="translate(25,327) rotate(-90)">Data set number</text>
<text transform="translate(1040,327) rotate(-90)">Data set number</text>
<text transform="translate(25,967) rotate(-90)">Data set number</text>
<text transform="translate(1040,967) rotate(-90)">Data set number</text>
</g>
<g stroke="#000" stroke-width="2" fill="#ebebeb">
<rect x="73" y="3" width="143" height="32"/>
<rect x="833" y="623" width="142" height="32"/>
<rect x="73" y="644" width="143" height="32"/>
<rect x="838" y="1264" width="143" height="32"/>
</g>
<g font-size="19" font-weight="bold" fill="#000" text-anchor="middle">
<text x="144.5" y="26">(a) 0.1 hPa</text>
<text x="904" y="646">(b) 3 hPa</text>
<text x="144.5" y="667">(c) 10 hPa</text>
<text x="909.5" y="1287">(d) 80 hPa</text>
</g>
<g stroke="#222" stroke-width="0.6">
<polygon points="73,1320 82.5,1313 82.5,1327" fill="#a50026"/>
<polygon points="979,1320 969.5,1313 969.5,1327" fill="#006837"/>
<rect x="82.5" y="1313" width="23.34" height="14" fill="#b81226"/>
<rect x="105.84" y="1313" width="23.34" height="14" fill="#c41e26"/>
<rect x="129.18" y="1313" width="23.34" height="14" fill="#d12a27"/>
<rect x="152.52" y="1313" width="23.34" height="14" fill="#db382a"/>
<rect x="175.86" y="1313" width="23.34" height="14" fill="#e24731"/>
<rect x="199.2" y="1313" width="23.34" height="14" fill="#e95639"/>
<rect x="222.54" y="1313" width="23.34" height="14" fill="#f06540"/>
<rect x="245.88" y="1313" width="23.34" height="14" fill="#f57546"/>
<rect x="269.22" y="1313" width="23.34" height="14" fill="#f7854f"/>
<rect x="292.56" y="1313" width="23.34" height="14" fill="#fa9657"/>
<rect x="315.9" y="1313" width="23.34" height="14" fill="#fca65e"/>
<rect x="339.24" y="1313" width="23.34" height="14" fill="#fdb466"/>
<rect x="362.58" y="1313" width="23.34" height="14" fill="#fdc171"/>
<rect x="385.92" y="1313" width="23.34" height="14" fill="#fecd7b"/>
<rect x="409.26" y="1313" width="23.34" height="14" fill="#feda86"/>
<rect x="432.6" y="1313" width="23.34" height="14" fill="#fee491"/>
<rect x="455.94" y="1313" width="23.34" height="14" fill="#feec9e"/>
<rect x="479.28" y="1313" width="23.34" height="14" fill="#fff4ab"/>
<rect x="502.62" y="1313" width="23.34" height="14" fill="#fffbb8"/>
<rect x="525.96" y="1313" width="23.34" height="14" fill="#fafdb9"/>
<rect x="549.3" y="1313" width="23.34" height="14" fill="#f1f9ac"/>
<rect x="572.64" y="1313" width="23.34" height="14" fill="#e7f59f"/>
<rect x="595.98" y="1313" width="23.34" height="14" fill="#def192"/>
<rect x="619.32" y="1313" width="23.34" height="14" fill="#d3ec87"/>
<rect x="642.66" y="1313" width="23.34" height="14" fill="#c6e67f"/>
<rect x="666" y="1313" width="23.34" height="14" fill="#b9e177"/>
<rect x="689.34" y="1313" width="23.34" height="14" fill="#acdc6e"/>
<rect x="712.68" y="1313" width="23.34" height="14" fill="#9ed669"/>
<rect x="736.02" y="1313" width="23.34" height="14" fill="#8ece67"/>
<rect x="759.36" y="1313" width="23.34" height="14" fill="#7ec866"/>
<rect x="782.7" y="1313" width="23.34" height="14" fill="#6ec164"/>
<rect x="806.04" y="1313" width="23.34" height="14" fill="#5cb861"/>
<rect x="829.38" y="1313" width="23.34" height="14" fill="#49ae5c"/>
<rect x="852.72" y="1313" width="23.34" height="14" fill="#36a557"/>
<rect x="876.06" y="1313" width="23.34" height="14" fill="#239c52"/>
<rect x="899.4" y="1313" width="23.34" height="14" fill="#17924d"/>
<rect x="922.74" y="1313" width="23.34" height="14" fill="#108647"/>
<rect x="946.08" y="1313" width="23.42" height="14" fill="#0a7a41"/>
</g>
<g font-size="17" fill="#000" text-anchor="middle">
<text x="105.84" y="1349">−0.9</text><text x="152.52" y="1349">−0.8</text><text x="199.2" y="1349">−0.7</text><text x="245.88" y="1349">−0.6</text><text x="292.56" y="1349">−0.5</text><text x="339.24" y="1349">−0.4</text><text x="385.92" y="1349">−0.3</text><text x="432.6" y="1349">−0.2</text><text x="479.28" y="1349">−0.1</text><text x="525.96" y="1349">0</text><text x="572.64" y="1349">0.1</text><text x="619.32" y="1349">0.2</text><text x="666" y="1349">0.3</text><text x="712.68" y="1349">0.4</text><text x="759.36" y="1349">0.5</text><text x="806.04" y="1349">0.6</text><text x="852.72" y="1349">0.7</text><text x="899.4" y="1349">0.8</text><text x="946.08" y="1349">0.9</text>
<text x="527" y="1372">Correlation coefficient</text>
</g>
<g font-size="16" fill="#000">
<text x="73" y="1404">1: ACE−FTS v2.2</text><text x="73" y="1430">2: ACE−FTS v3.5</text><text x="73" y="1456">4: HALOE</text><text x="73" y="1482">7: MAESTRO</text><text x="73" y="1508">8: MIPAS−Bologna V5H</text><text x="73" y="1534">9: MIPAS−Bologna V5R NOM</text><text x="73" y="1560">10: MIPAS−Bologna V5R MA</text>
<text x="316" y="1404">11: MIPAS−ESA V5H</text><text x="316" y="1430">12: MIPAS−ESA V5R NOM</text><text x="316" y="1456">13: MIPAS−ESA V5R MA</text><text x="316" y="1482">14: MIPAS−ESA V7R</text><text x="316" y="1508">15: MIPAS−IMKIAA V5H</text><text x="316" y="1534">16: MIPAS−IMKIAA V5R NOM</text><text x="316" y="1560">17: MIPAS−IMKIAA V5R MA</text>
<text x="560" y="1404">18: MIPAS−Oxford V5H</text><text x="560" y="1430">19: MIPAS−Oxford V5R NOM</text><text x="560" y="1456">20: MIPAS−Oxford V5R MA</text><text x="560" y="1482">21: MLS</text><text x="560" y="1508">22: POAM III</text><text x="560" y="1534">23: SAGE II</text><text x="560" y="1560">25: SCIAMACHY limb</text>
<text x="803" y="1404">26: SCIAMACHY lunar</text><text x="803" y="1430">31: SMR 544 GHz</text><text x="803" y="1456">32: SMR 489 GHz</text><text x="803" y="1482">33: SOFIE</text>
</g>
</svg>
</div></body></html>
